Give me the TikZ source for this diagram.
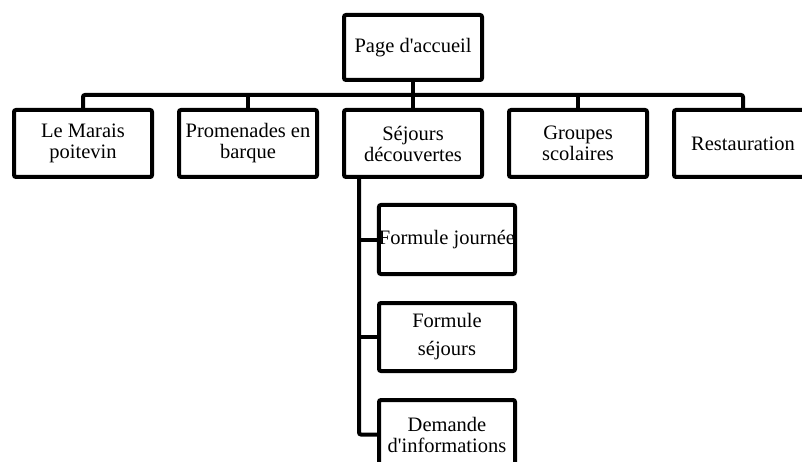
\documentclass[tikz,border=0pt]{standalone}
\usepackage{fontspec}
\setmainfont{Liberation Serif}[Ligatures=TeXOff]
\begin{document}
\begin{tikzpicture}[x=1pt,y=-1pt,
  box/.style={draw, line width=4pt, rounded corners=2pt, minimum width=138pt,
    minimum height=67pt, align=center, inner sep=0pt,
    font=\fontsize{20.5}{21}\selectfont},
  link/.style={line width=4pt}]
\useasboundingbox (0,0) rectangle (802,462);
\clip (0,0) rectangle (802,462);
\node[box, minimum height=65pt] (top) at (413,47.5) {Page d'accueil};
\node[box] (b1) at (83,143.5) {Le Marais\\poitevin};
\node[box] (b2) at (248,143.5) {Promenades en\\barque};
\node[box] (b3) at (413,143.5) {Séjours\\découvertes};
\node[box] (b4) at (578,143.5) {Groupes\\scolaires};
\node[box] (b5) at (743,143.5) {Restauration};
\node[box, minimum width=136pt, minimum height=69pt] (s1) at (447,239.5) {Formule journée};
\node[box, minimum width=136pt, minimum height=68pt] (s2) at (447,337) {Formule\\[7pt]séjours};
\node[box, minimum width=136pt, minimum height=69pt] (s3) at (447,434.5) {Demande\\d'informations};
\coordinate (bar) at (413,95);
\coordinate (spine) at (359,177);
\draw[link] (top.south) -- (bar);
\draw[link, rounded corners=2pt] (b1.north) -- (b1.north |- bar) -- (b5.north |- bar) -- (b5.north);
\draw[link] (b2.north) -- (b2.north |- bar);
\draw[link] (b3.north) -- (b3.north |- bar);
\draw[link] (b4.north) -- (b4.north |- bar);
\draw[link, rounded corners=2pt] (spine) |- (s3.west);
\draw[link] (s1.west) -- (s1.west -| spine);
\draw[link] (s2.west) -- (s2.west -| spine);
\end{tikzpicture}
\end{document}
